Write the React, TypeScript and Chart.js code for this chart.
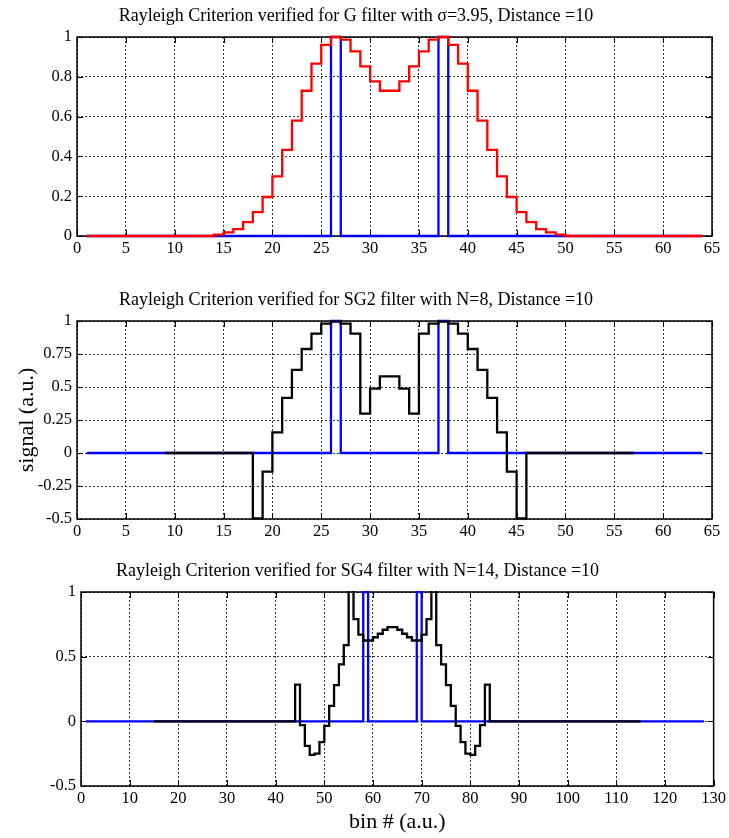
import React, { useEffect, useRef } from "react";
import { Chart, registerables } from "chart.js";

Chart.register(...registerables);

const SERIF = '"Liberation Serif", "Times New Roman", serif';

// ---------------- data ----------------
const gTitle = "Rayleigh Criterion verified for G filter with σ=3.95, Distance =10";
const sg2Title = "Rayleigh Criterion verified for SG2 filter with N=8, Distance =10";
const sg4Title = "Rayleigh Criterion verified for SG4 filter with N=14, Distance =10";
const yAxisLabel = "signal (a.u.)";
const xAxisLabel = "bin # (a.u.)";

// G filter (red), stairs: value holds from bin to next bin
const gBins = [1, 14, 15, 16, 17, 18, 19, 20, 21, 22, 23, 24, 25, 26, 27, 28, 29, 30, 31, 32, 33, 34, 35, 36, 37, 38, 39, 40, 41, 42, 43, 44, 45, 46, 47, 48, 49, 50, 64];
const gSignal = [0, 0.007, 0.018, 0.035, 0.07, 0.12, 0.196, 0.3, 0.433, 0.58, 0.73, 0.866, 0.96, 1.0, 0.987, 0.928, 0.852, 0.777, 0.73, 0.73, 0.777, 0.852, 0.928, 0.987, 1.0, 0.96, 0.866, 0.73, 0.58, 0.433, 0.3, 0.196, 0.12, 0.07, 0.035, 0.018, 0.007, 0, 0];

// two point sources (blue), 64 bins
const spikeBins64 = [1, 26, 27, 37, 38, 64];
const spikeVals64 = [0, 1, 0, 1, 0, 0];

// SG2 filter (black)
const sg2Bins = [9, 18, 19, 20, 21, 22, 23, 24, 25, 26, 27, 28, 29, 30, 31, 32, 33, 34, 35, 36, 37, 38, 39, 40, 41, 42, 43, 44, 45, 46, 57];
const sg2Signal = [0, -0.495, -0.141, 0.157, 0.417, 0.629, 0.788, 0.904, 0.98, 0.995, 0.98, 0.904, 0.298, 0.487, 0.58, 0.58, 0.487, 0.298, 0.904, 0.98, 0.995, 0.98, 0.904, 0.788, 0.629, 0.417, 0.157, -0.141, -0.495, 0, 0];

// SG4 filter (black), 128 bins
const sg4Bins = [15, 44, 45, 46, 47, 48, 49, 50, 51, 52, 53, 54, 55, 56, 57, 58, 59, 60, 61, 62, 63, 64, 65, 66, 67, 68, 69, 70, 71, 72, 73, 74, 75, 76, 77, 78, 79, 80, 81, 82, 83, 84, 115];
const sg4Signal = [0, 0.284, -0.03, -0.19, -0.26, -0.25, -0.16, -0.035, 0.12, 0.28, 0.44, 0.59, 1.25, 0.79, 0.67, 0.625, 0.625, 0.65, 0.677, 0.708, 0.729, 0.729, 0.708, 0.677, 0.65, 0.625, 0.625, 0.67, 0.79, 1.25, 0.59, 0.44, 0.28, 0.12, -0.035, -0.16, -0.25, -0.26, -0.19, -0.03, 0.284, 0, 0];

// two point sources (blue), 128 bins
const spikeBins128 = [1, 58, 59, 69, 70, 128];
const spikeVals128 = [0, 1, 0, 1, 0, 0];

// axis settings
const xMax64 = 65;
const xStep64 = 5;
const xMax128 = 130;
const xStep128 = 10;
const yRangeG = [0, 1];
const yStepG = 0.2;
const yRangeSG2 = [-0.5, 1];
const yStepSG2 = 0.25;
const yRangeSG4 = [-0.5, 1];
const yStepSG4 = 0.5;

// ---------------- layout ----------------
type Series = { bins: number[]; vals: number[]; color: string };
type Panel = {
  title: string;
  top: number;
  height: number;
  left: number;
  right: number;
  plotTop: number;
  plotBottom: number;
  xMax: number;
  xStep: number;
  yMin: number;
  yMax: number;
  yStep: number;
  series: Series[];
  clip: number;
  yTitle?: string;
  xTitle?: string;
};

const W = 729;
const LINE_W = 2.3;

const panels: Panel[] = [
  {
    title: gTitle, top: 0, height: 270, left: 77, right: 712, plotTop: 37, plotBottom: 236,
    xMax: xMax64, xStep: xStep64, yMin: yRangeG[0], yMax: yRangeG[1], yStep: yStepG,
    series: [
      { bins: gBins, vals: gSignal, color: "#ff0000" },
      { bins: spikeBins64, vals: spikeVals64, color: "#0000ff" },
    ],
    clip: 2,
  },
  {
    title: sg2Title, top: 284, height: 269, left: 77, right: 712, plotTop: 321, plotBottom: 519,
    xMax: xMax64, xStep: xStep64, yMin: yRangeSG2[0], yMax: yRangeSG2[1], yStep: yStepSG2,
    series: [
      { bins: sg2Bins, vals: sg2Signal, color: "#000000" },
      { bins: spikeBins64, vals: spikeVals64, color: "#0000ff" },
    ],
    clip: 2,
    yTitle: yAxisLabel,
  },
  {
    title: sg4Title, top: 555, height: 283, left: 81, right: 715, plotTop: 592, plotBottom: 786,
    xMax: xMax128, xStep: xStep128, yMin: yRangeSG4[0], yMax: yRangeSG4[1], yStep: yStepSG4,
    series: [
      { bins: sg4Bins, vals: sg4Signal, color: "#000000" },
      { bins: spikeBins128, vals: spikeVals128, color: "#0000ff" },
    ],
    clip: 1,
    xTitle: xAxisLabel,
  },
];

const framePlugin = {
  id: "matlabFrame",
  beforeDatasetsDraw(chart: any) {
    const { ctx, chartArea: a, scales } = chart;
    ctx.save();
    ctx.setLineDash([]);
    ctx.strokeStyle = "#000";
    ctx.lineWidth = 1;
    const L = 6;
    const seg = (x1: number, y1: number, x2: number, y2: number) => {
      ctx.beginPath();
      ctx.moveTo(x1, y1);
      ctx.lineTo(x2, y2);
      ctx.stroke();
    };
    scales.x.ticks.forEach((t: any) => {
      const px = Math.round(scales.x.getPixelForValue(t.value)) + 0.5;
      seg(px, a.bottom, px, a.bottom - L);
      seg(px, a.top, px, a.top + L);
    });
    scales.y.ticks.forEach((t: any) => {
      const py = Math.round(scales.y.getPixelForValue(t.value)) + 0.5;
      seg(a.left, py, a.left + L, py);
      seg(a.right, py, a.right - L, py);
    });
    ctx.lineWidth = 1.5;
    ctx.strokeRect(a.left, a.top, a.right - a.left, a.bottom - a.top);
    ctx.restore();
  },
};

const fmt = (v: number) => String(Number(Number(v).toFixed(2)));

function buildConfig(p: Panel): any {
  const tickFont = { family: SERIF, size: 16.5 };
  const grid = { color: "rgba(0,0,0,0.8)", lineWidth: 1, drawTicks: false };
  const border = { display: false, dash: [2, 2] };
  const titleFont = { family: SERIF, size: 22, weight: "normal" as const };
  return {
    type: "line",
    data: {
      datasets: p.series.map((s) => ({
        data: s.bins.map((b, i) => ({ x: b, y: s.vals[i] })),
        borderColor: s.color,
        backgroundColor: s.color,
        borderWidth: LINE_W,
        pointRadius: 0,
        pointHoverRadius: 0,
        stepped: true,
        fill: false,
        tension: 0,
        clip: p.clip,
      })),
    },
    options: {
      responsive: false,
      maintainAspectRatio: false,
      animation: false,
      devicePixelRatio: 1,
      events: [],
      layout: { padding: { left: 0, right: W - p.right, top: 0, bottom: 0 } },
      plugins: {
        legend: { display: false },
        tooltip: { enabled: false },
        title: {
          display: true,
          text: p.title,
          color: "#000",
          font: { family: SERIF, size: 18, weight: "normal" },
          padding: { top: 5, bottom: p.plotTop - p.top - 5 - 21.6 },
        },
      },
      scales: {
        x: {
          type: "linear",
          min: 0,
          max: p.xMax,
          ticks: { stepSize: p.xStep, autoSkip: false, maxRotation: 0, padding: 3, color: "#000", font: tickFont },
          grid,
          border,
          title: p.xTitle
            ? { display: true, text: p.xTitle, color: "#000", font: titleFont, padding: { top: 0, bottom: 2.8 } }
            : { display: false },
          afterFit: (s: any) => {
            s.height = p.height - (p.plotBottom - p.top);
          },
        },
        y: {
          type: "linear",
          min: p.yMin,
          max: p.yMax,
          ticks: { stepSize: p.yStep, padding: 5, color: "#000", font: tickFont, callback: (v: any) => fmt(v) },
          grid,
          border,
          title: p.yTitle
            ? { display: true, text: p.yTitle, color: "#000", font: titleFont, padding: { top: 13.8, bottom: 0 } }
            : { display: false },
          afterFit: (s: any) => {
            s.width = p.left;
          },
        },
      },
    },
    plugins: [framePlugin],
  };
}

function PanelChart({ p }: { p: Panel }) {
  const ref = useRef<HTMLCanvasElement | null>(null);
  useEffect(() => {
    if (!ref.current) return;
    const chart = new Chart(ref.current, buildConfig(p));
    return () => chart.destroy();
  }, [p]);
  return (
    <canvas
      ref={ref}
      width={W}
      height={p.height}
      style={{ position: "absolute", left: 0, top: p.top, width: W, height: p.height, display: "block" }}
    />
  );
}

export default function App() {
  return (
    <div style={{ position: "absolute", left: 0, top: 0, width: W, height: 838, background: "#fff", overflow: "hidden" }}>
      {panels.map((p, i) => (
        <PanelChart key={i} p={p} />
      ))}
    </div>
  );
}
